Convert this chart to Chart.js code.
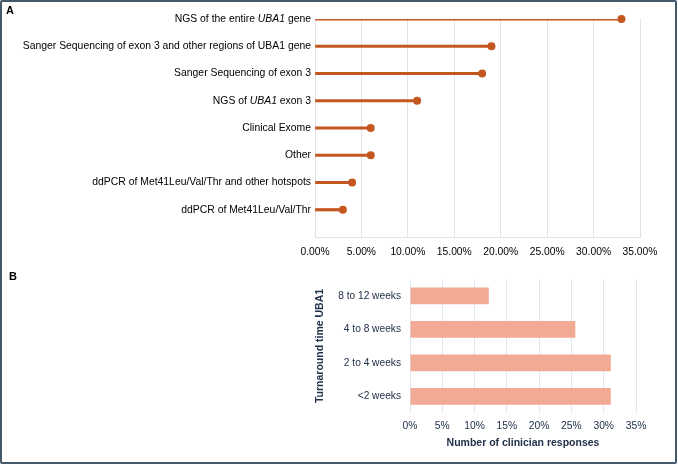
<!DOCTYPE html>
<html lang="en">
<head>
<meta charset="UTF-8">
<title>UBA1 testing survey</title>
<script src="https://cdn.jsdelivr.net/npm/chart.js"></script>
<style>
    body { margin: 0; padding: 0; background: #ffffff; font-family: "Liberation Sans", Arial, sans-serif; }
    .frame { position: absolute; left: 0; top: 0; width: 677px; height: 464px; box-sizing: border-box;
             border: 2px solid #46596a; border-radius: 2px; pointer-events: none; }
    .panel { position: absolute; font-weight: bold; font-size: 11px; color: #000; }
    .box { position: absolute; }
</style>
</head>
<body>
<div class="box" style="left:0;top:0;width:678px;height:262px"><canvas id="chartA"></canvas></div>
<div class="box" style="left:300px;top:270px;width:378px;height:181px"><canvas id="chartB"></canvas></div>
<div class="panel" style="left:6px;top:4px">A</div>
<div class="panel" style="left:9px;top:270px">B</div>
<div class="frame"></div>

<script>
// Panel A - methods used (share of responses, %). *text* = italic
const methods = [
    'NGS of the entire *UBA1* gene',
    'Sanger Sequencing of exon 3 and other regions of UBA1 gene',
    'Sanger Sequencing of exon 3',
    'NGS of *UBA1* exon 3',
    'Clinical Exome',
    'Other',
    'ddPCR of Met41Leu/Val/Thr and other hotspots',
    'ddPCR of Met41Leu/Val/Thr'
];
const methodShare = [33, 19, 18, 11, 6, 6, 4, 3];

// Panel B - turnaround time
const turnaround = ['8 to 12 weeks', '4 to 8 weeks', '2 to 4 weeks', '<2 weeks'];
const turnaroundShare = [12.2, 25.6, 31.1, 31.1];

const FONT = '"Liberation Sans", Arial, sans-serif';
const lolliColor = '#c4561f';
const navy = '#22304a';

// extra blank slot at the bottom so the first row sits on the top edge
const labelsA = methods.concat(['']);
const valsA = methodShare.concat([null]);

// draws y labels of chart A with italic parts
const italicLabels = {
    id: 'italicLabels',
    afterDraw(chart) {
        const ctx = chart.ctx;
        const y = chart.scales.y;
        const right = chart.chartArea.left - 4;
        ctx.save();
        ctx.fillStyle = '#000';
        ctx.textBaseline = 'middle';
        ctx.textAlign = 'left';
        methods.forEach((lbl, i) => {
            const parts = lbl.split('*');
            let w = 0;
            parts.forEach((p, k) => {
                ctx.font = (k % 2 ? 'italic ' : '') + '10.4px ' + FONT;
                w += ctx.measureText(p).width;
            });
            let x = right - w;
            const py = y.getPixelForTick(i);
            parts.forEach((p, k) => {
                ctx.font = (k % 2 ? 'italic ' : '') + '10.4px ' + FONT;
                ctx.fillText(p, x, py);
                x += ctx.measureText(p).width;
            });
        });
        ctx.restore();
    }
};

new Chart(document.getElementById('chartA'), {
    data: {
        labels: labelsA,
        datasets: [
            { type: 'line', data: valsA, showLine: false, pointRadius: 4, pointHoverRadius: 4,
              pointBackgroundColor: lolliColor, pointBorderWidth: 0, borderColor: lolliColor },
            { type: 'bar', data: valsA, backgroundColor: lolliColor, barThickness: 2.5, borderWidth: 0 }
        ]
    },
    options: {
        indexAxis: 'y',
        responsive: true,
        maintainAspectRatio: false,
        animation: false,
        layout: { padding: { left: 0, right: 38, top: 19, bottom: 0 } },
        plugins: { legend: { display: false }, tooltip: { enabled: false } },
        scales: {
            x: {
                min: 0, max: 35,
                ticks: { stepSize: 5, color: '#000', padding: 9, font: { family: FONT, size: 10.3 },
                         callback: v => v.toFixed(2) + '%' },
                grid: { color: '#e2e2e2', drawTicks: false },
                border: { color: '#e2e2e2' },
                afterFit: s => { s.height = 25; }
            },
            y: {
                offset: false,
                ticks: { display: false },
                grid: { display: false },
                border: { display: false },
                afterFit: s => { s.width = 315; }
            }
        }
    },
    plugins: [italicLabels]
});

new Chart(document.getElementById('chartB'), {
    type: 'bar',
    data: {
        labels: turnaround,
        datasets: [{ data: turnaroundShare, backgroundColor: '#f3aa94', borderWidth: 0,
                     categoryPercentage: 1, barPercentage: 0.5 }]
    },
    options: {
        indexAxis: 'y',
        responsive: true,
        maintainAspectRatio: false,
        animation: false,
        layout: { padding: { left: 0, right: 42, top: 9, bottom: 0 } },
        plugins: { legend: { display: false }, tooltip: { enabled: false } },
        scales: {
            x: {
                min: 0, max: 35,
                ticks: { stepSize: 5, color: navy, padding: 7, font: { family: FONT, size: 10.3 },
                         callback: v => v + '%' },
                grid: { color: '#dde6f2', drawTicks: false },
                border: { display: false },
                title: { display: true, text: 'Number of clinician responses', color: navy,
                         padding: { top: 0, bottom: 2 }, font: { family: FONT, size: 10.5, weight: 'bold' } },
                afterFit: s => { s.height = 38; }
            },
            y: {
                ticks: { color: navy, padding: 9, font: { family: FONT, size: 10.2 } },
                grid: { display: false, drawTicks: false },
                border: { display: false },
                title: { display: true, text: 'Turnaround time UBA1', color: navy,
                         padding: { top: 14, bottom: 0 }, font: { family: FONT, size: 10.5, weight: 'bold' } },
                afterFit: s => { s.width = 110; s.paddingTop = 0; s.paddingBottom = 0; }
            }
        }
    }
});
</script>
</body>
</html>
